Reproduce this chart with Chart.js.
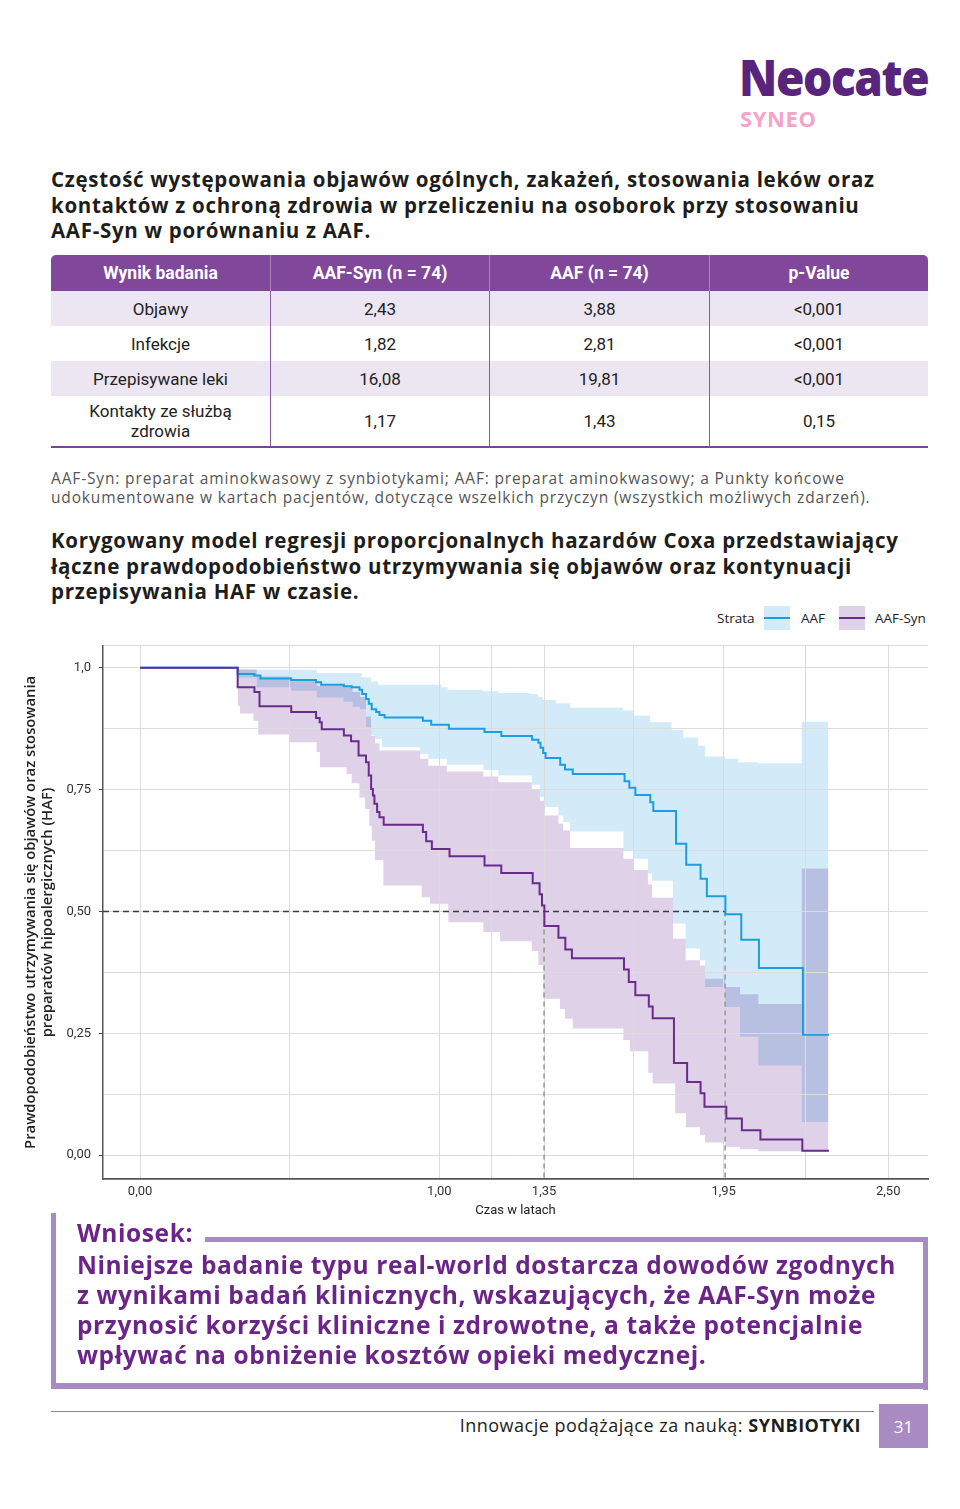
<!DOCTYPE html>
<html lang="pl">
<head>
<meta charset="utf-8">
<title>Neocate Syneo – AAF-Syn vs AAF</title>
<script src="https://cdn.jsdelivr.net/npm/chart.js@4.4.1/dist/chart.umd.min.js"></script>
<style>
  html, body { margin: 0; padding: 0; background: #fff; }
  body { width: 960px; height: 1509px; position: relative; overflow: hidden;
         font-family: "Open Sans", sans-serif; color: #1d1d1b; }
  .abs { position: absolute; white-space: nowrap; }
  #logo { left: 739px; top: 46px; font-family: "Open Sans", sans-serif; font-weight: 800;
          font-size: 46px; line-height: 56px; color: #58247c; letter-spacing: -1.4px;
          transform: scaleY(1.08); transform-origin: 0 0; }
  #syneo { left: 740px; top: 105px; font-family: "Open Sans", sans-serif; font-weight: 700;
           font-size: 22px; line-height: 26px; color: #f4a3c9; letter-spacing: 0.6px; }
  .title { left: 51px; font-weight: 700; font-size: 20.5px; line-height: 25.7px; color: #1d1d1b;
           letter-spacing: 0.7px; }
  #title1 { top: 167px; }
  #title2 { top: 528px; }
  #note { left: 51px; top: 469px; font-size: 15.5px; line-height: 19px; color: #555; letter-spacing: 0.85px; }
  #tbl { position: absolute; left: 51px; top: 255px; width: 877px; border-collapse: separate;
         border-spacing: 0; table-layout: fixed; font-family: Roboto, sans-serif; font-size: 17px; }
  #tbl th { background: #80479a; color: #fff; font-weight: 700; font-size: 17.5px; height: 36px; padding: 0; }
  #tbl th:first-child { border-top-left-radius: 5px; }
  #tbl th:last-child { border-top-right-radius: 5px; }
  #tbl th + th { border-left: 1px solid rgba(255,255,255,0.35); }
  #tbl td { text-align: center; padding: 0; height: 35px; color: #222; }
  #tbl td + td { border-left: 1px solid #8a5aa5; }
  #tbl tr.alt td { background: #ece6f3; }
  #tbl tr.last td { height: 50px; line-height: 20px; border-bottom: 2px solid #7d4496; }
  #legend { left: 717px; top: 606px; height: 24px; font-size: 13.5px; color: #222; }
  #legend span { position: absolute; top: 3px; }
  .sw { position: absolute; top: 0; width: 26px; height: 24px; }
  .sw i { position: absolute; left: 0; right: 0; top: 11px; height: 2px; }
  #chartBox { position: absolute; left: 0; top: 630px; width: 940px; height: 595px; }
  .bar { position: absolute; background: #a98bc4; }
  .concl { left: 77px; font-weight: 700; font-size: 24.5px; line-height: 30px; color: #6b2589; letter-spacing: 0.6px; }
  #wniosek { top: 1218px; }
  #concl { top: 1250px; }
  #footLine { position: absolute; left: 51px; top: 1411px; width: 823px; height: 1px; background: #8a8a8a; }
  #footText { right: 99px; top: 1413px; font-size: 18px; line-height: 24px; color: #1d1d1b; letter-spacing: 0.5px; }
  #pageNo { position: absolute; left: 879px; top: 1404px; width: 49px; height: 44px; background: #a98bc4;
            color: #fff; font-size: 17px; line-height: 46px; text-align: center; }
</style>
</head>
<body>

<div id="logo" class="abs">Neocate</div>
<div id="syneo" class="abs">SYNEO</div>

<div id="title1" class="abs title">Częstość występowania objawów ogólnych, zakażeń, stosowania leków oraz<br>kontaktów z ochroną zdrowia w przeliczeniu na osoborok przy stosowaniu<br>AAF-Syn w porównaniu z AAF.</div>

<table id="tbl">
  <colgroup><col style="width:219px"><col style="width:219px"><col style="width:220px"><col style="width:219px"></colgroup>
  <thead>
    <tr><th>Wynik badania</th><th>AAF-Syn (n = 74)</th><th>AAF (n = 74)</th><th>p-Value</th></tr>
  </thead>
  <tbody>
    <tr class="alt"><td>Objawy</td><td>2,43</td><td>3,88</td><td>&lt;0,001</td></tr>
    <tr><td>Infekcje</td><td>1,82</td><td>2,81</td><td>&lt;0,001</td></tr>
    <tr class="alt"><td>Przepisywane leki</td><td>16,08</td><td>19,81</td><td>&lt;0,001</td></tr>
    <tr class="last"><td>Kontakty ze służbą<br>zdrowia</td><td>1,17</td><td>1,43</td><td>0,15</td></tr>
  </tbody>
</table>

<div id="note" class="abs">AAF-Syn: preparat aminokwasowy z synbiotykami; AAF: preparat aminokwasowy; a Punkty końcowe<br>udokumentowane w kartach pacjentów, dotyczące wszelkich przyczyn (wszystkich możliwych zdarzeń).</div>

<div id="title2" class="abs title">Korygowany model regresji proporcjonalnych hazardów Coxa przedstawiający<br>łączne prawdopodobieństwo utrzymywania się objawów oraz kontynuacji<br>przepisywania HAF w czasie.</div>

<div id="legend" class="abs">
  <span style="left:0">Strata</span>
  <div class="sw" style="left:47px;background:#d3eaf8"><i style="background:#1a9ee0"></i></div>
  <span style="left:84px">AAF</span>
  <div class="sw" style="left:122px;background:#dfd1e8"><i style="background:#6a2b8e"></i></div>
  <span style="left:158px">AAF-Syn</span>
</div>

<div id="chartBox"><canvas id="kmChart" width="940" height="595"></canvas></div>

<div class="bar" style="left:51px;top:1213px;width:5px;height:176px"></div>
<div class="bar" style="left:205px;top:1237px;width:723px;height:5px"></div>
<div class="bar" style="left:923px;top:1237px;width:5px;height:153px"></div>
<div class="bar" style="left:51px;top:1383px;width:877px;height:6px"></div>
<div id="wniosek" class="abs concl">Wniosek:</div>
<div id="concl" class="abs concl">Niniejsze badanie typu real-world dostarcza dowodów zgodnych<br>z wynikami badań klinicznych, wskazujących, że AAF-Syn może<br>przynosić korzyści kliniczne i zdrowotne, a także potencjalnie<br>wpływać na obniżenie kosztów opieki medycznej.</div>

<div id="footLine"></div>
<div id="footText" class="abs">Innowacje podążające za nauką: <b>SYNBIOTYKI</b></div>
<div id="pageNo">31</div>

<script>
// axis ticks (ggplot-style: labelled breaks + minor lines halfway between)
const xMajor = [0, 1, 1.35, 1.95, 2.5];
const xMajorLabels = ['0,00', '1,00', '1,35', '1,95', '2,50'];
const xMinor = [0.5, 1.175, 1.65, 2.225];
const yMajor = [0, 0.25, 0.5, 0.75, 1];
const yMajorLabels = ['0,00', '0,25', '0,50', '0,75', '1,0'];
const yMinor = [0.125, 0.375, 0.625, 0.875];

// median survival marks
const medianLevel = 0.5;
const medianTimes = [1.35, 1.955];

// AAF-Syn: adjusted survival curve (time in years, probability after each step)
const synTime = [0, 0.326, 0.382, 0.399, 0.505, 0.588, 0.600, 0.607, 0.681, 0.705, 0.730, 0.755, 0.764, 0.772,
  0.778, 0.783, 0.792, 0.800, 0.814, 0.945, 0.956, 0.975, 1.034, 1.151, 1.207, 1.312, 1.335, 1.343, 1.351,
  1.398, 1.421, 1.443, 1.617, 1.633, 1.655, 1.700, 1.713, 1.784, 1.828, 1.873, 1.886, 1.959, 2.011, 2.073,
  2.213, 2.302];
const synSurv = [1, 0.96, 0.95, 0.921, 0.909, 0.897, 0.888, 0.874, 0.861, 0.849, 0.82, 0.806, 0.779, 0.751,
  0.738, 0.721, 0.704, 0.693, 0.678, 0.663, 0.644, 0.628, 0.613, 0.594, 0.579, 0.558, 0.535, 0.512, 0.47,
  0.446, 0.422, 0.404, 0.381, 0.355, 0.328, 0.305, 0.281, 0.189, 0.15, 0.127, 0.099, 0.075, 0.051, 0.032,
  0.009, 0.009];

// AAF-Syn: confidence band
const synUpperTime = [0.326, 0.39, 0.505, 0.59, 0.68, 0.71, 0.735, 0.755, 0.772, 0.785, 0.80, 0.936, 0.963,
  1.025, 1.147, 1.197, 1.309, 1.336, 1.353, 1.398, 1.414, 1.437, 1.615, 1.648, 1.697, 1.711, 1.781, 1.823,
  1.871, 1.888, 1.955, 2.005, 2.066, 2.211, 2.30];
const synUpper = [0.997, 0.982, 0.977, 0.963, 0.96, 0.95, 0.94, 0.9, 0.86, 0.845, 0.83, 0.813, 0.799,
  0.787, 0.777, 0.765, 0.75, 0.727, 0.697, 0.68, 0.666, 0.63, 0.608, 0.585, 0.555, 0.528, 0.444, 0.4,
  0.389, 0.362, 0.345, 0.33, 0.31, 0.588, 0.588];
const synLowerTime = [0.326, 0.334, 0.379, 0.395, 0.501, 0.59, 0.601, 0.69, 0.707, 0.733, 0.752, 0.766, 0.774,
  0.785, 0.813, 0.941, 0.969, 1.03, 1.147, 1.203, 1.309, 1.331, 1.348, 1.403, 1.42, 1.446, 1.615, 1.637,
  1.698, 1.713, 1.788, 1.824, 1.871, 1.888, 1.955, 2.005, 2.066, 2.30];
const synLower = [0.922, 0.906, 0.891, 0.863, 0.847, 0.827, 0.796, 0.782, 0.763, 0.734, 0.71, 0.676, 0.645,
  0.605, 0.553, 0.529, 0.516, 0.478, 0.458, 0.439, 0.419, 0.39, 0.321, 0.3, 0.28, 0.26, 0.236, 0.213,
  0.169, 0.147, 0.086, 0.057, 0.041, 0.026, 0.017, 0.012, 0.008, 0.008];

// AAF: adjusted survival curve
const aafTime = [0, 0.326, 0.382, 0.402, 0.505, 0.588, 0.605, 0.681, 0.707, 0.733, 0.742, 0.755, 0.764, 0.774,
  0.789, 0.800, 0.817, 0.945, 0.973, 1.032, 1.151, 1.207, 1.310, 1.331, 1.338, 1.347, 1.355, 1.404, 1.420,
  1.446, 1.619, 1.635, 1.655, 1.705, 1.715, 1.791, 1.825, 1.873, 1.894, 1.956, 2.009, 2.068, 2.215, 2.302];
const aafSurv = [1, 0.987, 0.984, 0.978, 0.975, 0.970, 0.965, 0.962, 0.960, 0.955, 0.946, 0.936, 0.926, 0.915,
  0.909, 0.903, 0.898, 0.891, 0.883, 0.875, 0.868, 0.860, 0.852, 0.846, 0.836, 0.825, 0.815, 0.801, 0.791,
  0.782, 0.767, 0.754, 0.739, 0.724, 0.706, 0.639, 0.596, 0.567, 0.531, 0.494, 0.442, 0.384, 0.247, 0.247];

// AAF: confidence band
const aafUpperTime = [0.326, 0.59, 0.741, 0.772, 0.795, 1.006, 1.028, 1.147, 1.197, 1.30, 1.33, 1.345, 1.39,
  1.437, 1.615, 1.648, 1.704, 1.776, 1.815, 1.865, 1.888, 1.955, 1.999, 2.066, 2.211, 2.30];
const aafUpper = [0.996, 0.989, 0.98, 0.972, 0.965, 0.96, 0.955, 0.952, 0.948, 0.946, 0.94, 0.934, 0.927,
  0.918, 0.912, 0.902, 0.888, 0.872, 0.857, 0.84, 0.818, 0.813, 0.806, 0.804, 0.889, 0.889];
const aafLowerTime = [0.326, 0.39, 0.505, 0.59, 0.68, 0.71, 0.735, 0.755, 0.772, 0.785, 0.808, 0.936, 0.963,
  1.025, 1.147, 1.197, 1.309, 1.336, 1.353, 1.398, 1.414, 1.437, 1.615, 1.648, 1.697, 1.711, 1.781, 1.823,
  1.871, 1.888, 1.955, 2.005, 2.066, 2.211, 2.30];
const aafLower = [0.98, 0.96, 0.953, 0.939, 0.93, 0.92, 0.915, 0.878, 0.861, 0.854, 0.837, 0.823, 0.813,
  0.801, 0.79, 0.779, 0.76, 0.735, 0.714, 0.697, 0.683, 0.664, 0.625, 0.608, 0.578, 0.563, 0.475, 0.424,
  0.4, 0.345, 0.304, 0.243, 0.184, 0.068, 0.068];

const xMin = -0.124, xMax = 2.633, yMin = -0.049, yMax = 1.045;

const BLUE = '#1a9ee0', PURPLE = '#6a2b8e';
const BLUE_FILL = '#d3eaf8', PURPLE_FILL = '#dfd1e8';
const GRID = '#dcdcdc';

function toPoints(xs, ys) {
  return xs.map((x, i) => ({ x: x, y: ys[i] }));
}

function band(label, xs, ys, fillColor) {
  return {
    label, data: toPoints(xs, ys), stepped: 'before', borderWidth: 0, pointRadius: 0,
    backgroundColor: fillColor, fill: fillColor ? '+1' : false, order: 5
  };
}

// fills are painted with "multiply" so the overlap of both bands darkens like in the print
const multiplyFill = {
  id: 'multiplyFill',
  beforeRender(chart) { chart.ctx.globalCompositeOperation = 'multiply'; },
  beforeDraw(chart) { chart.ctx.globalCompositeOperation = 'source-over'; }
};

new Chart(document.getElementById('kmChart'), {
  type: 'line',
  data: {
    datasets: [
      band('AAF-Syn upper', synUpperTime, synUpper, PURPLE_FILL),
      band('AAF-Syn lower', synLowerTime, synLower, null),
      band('AAF upper', aafUpperTime, aafUpper, BLUE_FILL),
      band('AAF lower', aafLowerTime, aafLower, null),
      {
        label: 'median', data: [{ x: xMin, y: medianLevel }, { x: medianTimes[1], y: medianLevel }],
        borderColor: '#3c3c3c', borderWidth: 1.6, borderDash: [6, 4], pointRadius: 0, order: 3
      },
      {
        label: 'median AAF-Syn', data: [{ x: medianTimes[0], y: medianLevel }, { x: medianTimes[0], y: yMin }],
        borderColor: '#9b9b9b', borderWidth: 1.6, borderDash: [5, 4], pointRadius: 0, order: 3
      },
      {
        label: 'median AAF', data: [{ x: medianTimes[1], y: medianLevel }, { x: medianTimes[1], y: yMin }],
        borderColor: '#9b9b9b', borderWidth: 1.6, borderDash: [5, 4], pointRadius: 0, order: 3
      },
      {
        label: 'AAF', data: toPoints(aafTime, aafSurv), stepped: 'before',
        borderColor: BLUE, borderWidth: 2, pointRadius: 0, fill: false, order: 1
      },
      {
        label: 'AAF-Syn', data: toPoints(synTime, synSurv), stepped: 'before',
        borderColor: PURPLE, borderWidth: 2, pointRadius: 0, fill: false, order: 0
      }
    ]
  },
  options: {
    responsive: false,
    animation: false,
    layout: { padding: { top: 15, right: 12, left: 0, bottom: 0 } },
    plugins: {
      legend: { display: false },
      tooltip: { enabled: false },
      filler: { drawTime: 'beforeDraw' }
    },
    scales: {
      x: {
        type: 'linear', min: xMin, max: xMax,
        afterBuildTicks(scale) {
          scale.ticks = xMajor.concat(xMinor).sort((a, b) => a - b).map(v => ({ value: v }));
        },
        afterFit(scale) { scale.height = 46; },
        ticks: {
          autoSkip: false, maxRotation: 0, padding: 5, color: '#333',
          font: { family: 'Roboto', size: 13 },
          callback(value) {
            const i = xMajor.indexOf(value);
            return i >= 0 ? xMajorLabels[i] : '';
          }
        },
        grid: { color: GRID, lineWidth: 1, drawTicks: false },
        border: { color: '#555', width: 1.8 },
        title: {
          display: true, text: 'Czas w latach', color: '#222',
          font: { family: 'Roboto', size: 13 }, padding: { top: 0, bottom: 6 }
        }
      },
      y: {
        type: 'linear', min: yMin, max: yMax,
        afterBuildTicks(scale) {
          scale.ticks = yMajor.concat(yMinor, [yMax]).sort((a, b) => a - b).map(v => ({ value: v }));
        },
        afterFit(scale) { scale.width = 103; },
        ticks: {
          autoSkip: false, padding: 8, color: '#333',
          font: { family: 'Roboto', size: 13 },
          callback(value) {
            const i = yMajor.indexOf(value);
            return i >= 0 ? yMajorLabels[i] : '';
          }
        },
        grid: {
          color: GRID, lineWidth: 1, tickLength: 4,
          tickColor: ctx => (yMajor.includes(ctx.tick && ctx.tick.value) ? '#444' : 'rgba(0,0,0,0)')
        },
        border: { color: '#555', width: 1.5 },
        title: {
          display: true,
          text: ['Prawdopodobieństwo utrzymywania się objawów oraz stosowania', 'preparatów hipoalergicznych (HAF)'],
          color: '#222', font: { family: 'Open Sans', size: 14.8, weight: '600', lineHeight: 1.15 },
          padding: { top: 22, bottom: 0 }
        }
      }
    }
  },
  plugins: [multiplyFill]
});
</script>
</body>
</html>
